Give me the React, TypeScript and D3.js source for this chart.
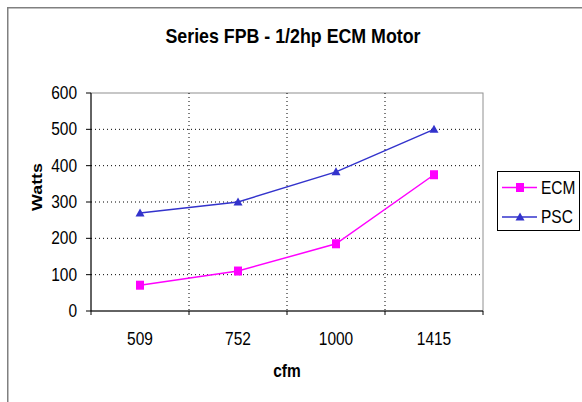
import React from "react";
import * as d3 from "d3";

const categories = ["509", "752", "1000", "1415"];
const ecmValues = [71, 110, 185, 375];
const pscValues = [270, 300, 383, 500];
const yTicks = [0, 100, 200, 300, 400, 500, 600];

const width = 582;
const height = 402;
const plot = { left: 91, right: 483, top: 93, bottom: 311 };
const font = "'Liberation Sans', Arial, sans-serif";
const stretch = 1.15; // text in the picture is a bit taller than wide

export default function App() {
  const x = d3
    .scaleBand<string>()
    .domain(categories)
    .range([plot.left, plot.right]);
  const y = d3.scaleLinear().domain([0, 600]).range([plot.bottom, plot.top]);

  const cx = (c: string) => (x(c) ?? 0) + x.bandwidth() / 2;
  const line = d3
    .line<number>()
    .x((_, i) => cx(categories[i]))
    .y((d) => y(d));

  const boundaries = categories.slice(1).map((c) => x(c) ?? 0);

  const tri = (px: number, py: number) =>
    `M${px},${py - 4.5} L${px + 4.5},${py + 3.5} L${px - 4.5},${py + 3.5} Z`;

  const ecmColor = "#ff00ff";
  const pscColor = "#3333cc";

  const T = ({
    x: tx,
    y: ty,
    anchor = "start",
    bold = false,
    size = 15.5,
    rotate = 0,
    children,
  }: {
    x: number;
    y: number;
    anchor?: string;
    bold?: boolean;
    size?: number;
    rotate?: number;
    children: React.ReactNode;
  }) => (
    <text
      transform={`translate(${tx},${ty}) scale(1,${stretch}) rotate(${rotate})`}
      textAnchor={anchor}
      fontFamily={font}
      fontWeight={bold ? "bold" : "normal"}
      fontSize={size}
    >
      {children}
    </text>
  );

  return (
    <svg
      width={width}
      height={height}
      style={{ position: "absolute", left: 0, top: 0, background: "#fff" }}
    >
      {/* outer chart border */}
      <path
        d={`M7.75,${height} L7.75,7.75 L${width},7.75`}
        fill="none"
        stroke="#808080"
        strokeWidth={1.5}
      />

      <T x={293} y={43} anchor="middle" bold size={17.8}>
        Series FPB - 1/2hp ECM Motor
      </T>

      {/* plot border */}
      <rect
        x={plot.left}
        y={plot.top}
        width={plot.right - plot.left}
        height={plot.bottom - plot.top}
        fill="none"
        stroke="#909090"
        strokeWidth={1}
      />

      {/* horizontal grid */}
      {yTicks.slice(1, -1).map((t) => (
        <line
          key={"h" + t}
          x1={plot.left}
          x2={plot.right}
          y1={y(t)}
          y2={y(t)}
          stroke="#000"
          strokeWidth={1}
          strokeDasharray="1,3"
        />
      ))}
      {/* vertical grid */}
      {boundaries.map((b) => (
        <line
          key={"v" + b}
          x1={b}
          x2={b}
          y1={plot.top}
          y2={plot.bottom}
          stroke="#000"
          strokeWidth={1}
          strokeDasharray="1,3"
        />
      ))}

      {/* axes */}
      <line x1={plot.left} x2={plot.left} y1={plot.top} y2={plot.bottom} stroke="#000" />
      <line x1={plot.left} x2={plot.right} y1={plot.bottom} y2={plot.bottom} stroke="#000" />
      {yTicks.map((t) => (
        <g key={"yt" + t}>
          <line x1={plot.left - 5} x2={plot.left} y1={y(t)} y2={y(t)} stroke="#000" />
          <T x={plot.left - 14} y={y(t) + 6} anchor="end">
            {t}
          </T>
        </g>
      ))}
      {[plot.left, ...boundaries, plot.right].map((b) => (
        <line key={"xt" + b} x1={b} x2={b} y1={plot.bottom} y2={plot.bottom + 4} stroke="#000" />
      ))}
      {categories.map((c) => (
        <T key={"xl" + c} x={cx(c)} y={345} anchor="middle">
          {c}
        </T>
      ))}

      <T x={(plot.left + plot.right) / 2} y={377} anchor="middle" bold>
        cfm
      </T>
      <T x={42} y={187} anchor="middle" bold rotate={-90}>
        Watts
      </T>

      {/* series */}
      <path d={line(pscValues) ?? ""} fill="none" stroke={pscColor} strokeWidth={1.5} />
      <path d={line(ecmValues) ?? ""} fill="none" stroke={ecmColor} strokeWidth={1.5} />
      {pscValues.map((v, i) => (
        <path key={"p" + i} d={tri(cx(categories[i]), y(v))} fill={pscColor} />
      ))}
      {ecmValues.map((v, i) => (
        <rect
          key={"e" + i}
          x={cx(categories[i]) - 4}
          y={y(v) - 4.5}
          width={8}
          height={9}
          fill={ecmColor}
        />
      ))}

      {/* legend */}
      <rect x={497.5} y={171.5} width={82} height={59} fill="#fff" stroke="#000" strokeWidth={1} />
      <line x1={502} x2={537} y1={187.5} y2={187.5} stroke={ecmColor} strokeWidth={1.5} />
      <rect x={516} y={183} width={8} height={9} fill={ecmColor} />
      <T x={541} y={193.5}>ECM</T>
      <line x1={502} x2={537} y1={217} y2={217} stroke={pscColor} strokeWidth={1.5} />
      <path d={tri(520, 217)} fill={pscColor} />
      <T x={541} y={223}>PSC</T>
    </svg>
  );
}
